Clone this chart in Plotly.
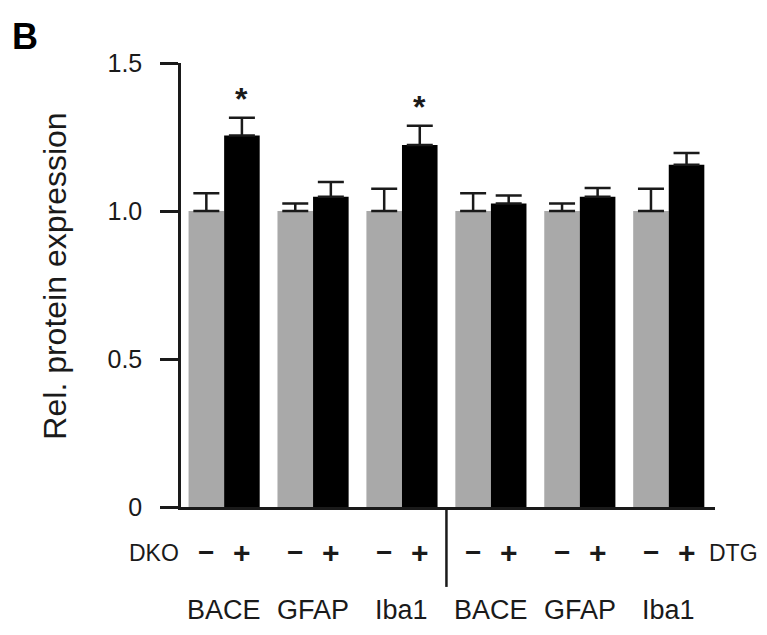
import plotly.graph_objects as go

# ---- data ----
proteins = ["BACE", "GFAP", "Iba1", "BACE", "GFAP", "Iba1"]
ctrl_vals = [1.00, 1.00, 1.00, 1.00, 1.00, 1.00]
ctrl_err = [0.06, 0.025, 0.075, 0.06, 0.025, 0.075]
ko_vals = [1.255, 1.048, 1.223, 1.025, 1.048, 1.156]
ko_err = [0.06, 0.05, 0.065, 0.027, 0.03, 0.04]
significant = [True, False, True, False, False, False]
ytick_vals = [0, 0.5, 1.0, 1.5]
ytick_text = ["0", "0.5", "1.0", "1.5"]

FONT = "Liberation Sans, Arial, Helvetica, sans-serif"
INK = "#1a1a1a"
xpos = list(range(len(proteins)))

fig = go.Figure()
fig.add_trace(go.Bar(
    x=xpos, y=ctrl_vals, name="-",
    marker=dict(color="#a9a9a9", line=dict(width=0)),
    error_y=dict(type="data", array=ctrl_err, arrayminus=[0] * len(ctrl_err),
                 symmetric=False, color=INK, thickness=2.5, width=13),
))
fig.add_trace(go.Bar(
    x=xpos, y=ko_vals, name="+",
    marker=dict(color="#000000", line=dict(width=0)),
    error_y=dict(type="data", array=ko_err, arrayminus=[0] * len(ko_err),
                 symmetric=False, color=INK, thickness=2.5, width=13),
))

annotations = []
# panel letter
annotations.append(dict(text="<b>B</b>", xref="paper", yref="paper",
                        x=-0.32, y=1.11, xanchor="left", yanchor="top",
                        showarrow=False, font=dict(size=36, color="#000", family=FONT)))
# y title
annotations.append(dict(text="Rel. protein expression", xref="paper", yref="paper",
                        x=-0.235, y=0.52, textangle=-90, xanchor="center", yanchor="middle",
                        showarrow=False, font=dict(size=32, color=INK, family=FONT)))
# DKO / DTG
annotations.append(dict(text="DKO", xref="paper", yref="paper", x=0.0, y=-0.103,
                        xanchor="right", yanchor="middle", showarrow=False,
                        font=dict(size=23, color=INK, family=FONT)))
annotations.append(dict(text="DTG", xref="x", yref="paper", x=xpos[-1] + 0.43, y=-0.103,
                        xanchor="left", yanchor="middle", showarrow=False,
                        font=dict(size=23, color=INK, family=FONT)))
for i, p in enumerate(proteins):
    annotations.append(dict(text="<b>−</b>", xref="x", yref="paper", x=i - 0.2, y=-0.103,
                            xanchor="center", yanchor="middle", showarrow=False,
                            font=dict(size=28, color=INK, family=FONT)))
    annotations.append(dict(text="<b>+</b>", xref="x", yref="paper", x=i + 0.2, y=-0.103,
                            xanchor="center", yanchor="middle", showarrow=False,
                            font=dict(size=30, color=INK, family=FONT)))
    annotations.append(dict(text=p, xref="x", yref="paper", x=i, y=-0.231,
                            xanchor="center", yanchor="middle", showarrow=False,
                            font=dict(size=27, color=INK, family=FONT)))
    if significant[i]:
        annotations.append(dict(text="<b>*</b>", xref="x", yref="y", x=i + 0.2,
                                y=ko_vals[i] + ko_err[i], xanchor="center", yanchor="bottom",
                                yshift=-1, showarrow=False,
                                font=dict(size=32, color=INK, family=FONT)))

fig.update_layout(
    width=767, height=635,
    margin=dict(l=173, r=60, t=55, b=136),
    paper_bgcolor="white", plot_bgcolor="white",
    barmode="group", bargap=0.2, bargroupgap=0,
    showlegend=False,
    annotations=annotations,
    shapes=[dict(type="line", xref="x", yref="paper", x0=2.5, x1=2.5, y0=0, y1=-0.18,
                 line=dict(color=INK, width=2.5))],
    font=dict(family=FONT, color=INK),
)
fig.update_xaxes(range=[-0.485, 5.52], showline=True, linecolor=INK, linewidth=2.5,
                 showticklabels=False, ticks="", showgrid=False, zeroline=False)
fig.update_yaxes(range=[0, 1.5], tickvals=ytick_vals, ticktext=ytick_text,
                 showline=True, linecolor=INK, linewidth=2.5,
                 ticks="outside", ticklen=18, tickwidth=2.5, tickcolor=INK,
                 ticklabelstandoff=13, tickfont=dict(size=25, color=INK, family=FONT),
                 showgrid=False, zeroline=False)

fig.write_html("out.html")
